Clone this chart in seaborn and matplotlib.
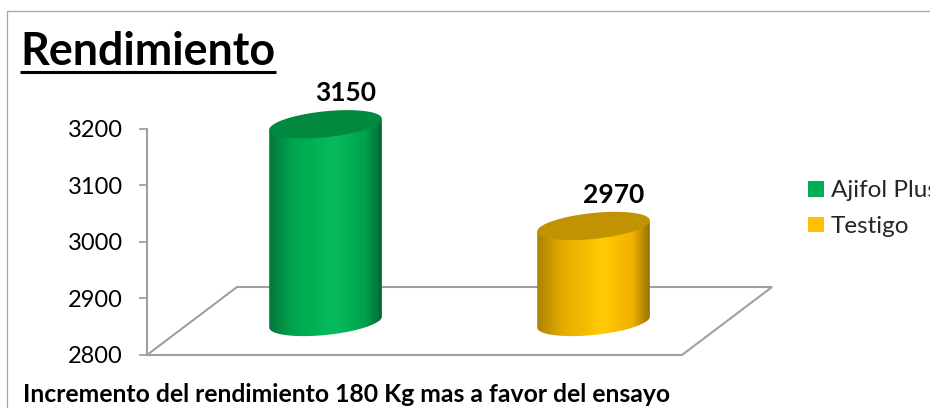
import numpy as np
import pandas as pd
import matplotlib
matplotlib.use('Agg')
import matplotlib.pyplot as plt
import seaborn as sns
from matplotlib.colors import LinearSegmentedColormap
from matplotlib.patches import Patch, PathPatch, Polygon
from matplotlib.path import Path

# values
tratamientos = ['Ajifol Plus', 'Testigo']
rendimiento = [3150, 2970]
y_ticks = [2800, 2900, 3000, 3100, 3200]
colores = ['#00B050', '#FFC000']
tapas = ['#00893F', '#C29300']
gradientes = [
    [(0, '#04783A'), (0.22, '#00A64F'), (0.58, '#05BC5C'), (0.85, '#00A24D'), (1, '#006A33')],
    [(0, '#AC8300'), (0.22, '#E2AB00'), (0.58, '#FFCC00'), (0.85, '#F0B000'), (1, '#977200')],
]
gris = '#A0A0A0'

W, H = 930, 408
sns.set_theme(style='white')
plt.rcParams['font.family'] = ['Lato', 'DejaVu Sans']

df = pd.DataFrame({'tratamiento': tratamientos, 'rendimiento': rendimiento})


def caja(x0, y0, x1, y1):
    # pixel box (top-left origin) to figure fractions
    return [x0 / W, 1 - y1 / H, (x1 - x0) / W, (y1 - y0) / H]


fig = plt.figure(figsize=(W / 100, H / 100), dpi=100)

# value axis
ax = fig.add_axes(caja(147, 129, 682, 355))
ax.set_ylim(2800, 3200)
ax.set_xticks([])
ax.set_yticks(y_ticks)
ax.patch.set_alpha(0)
sns.despine(ax=ax, bottom=True)
ax.spines['left'].set_color(gris)
ax.spines['left'].set_linewidth(1.5)
ax.tick_params(axis='y', left=True, length=6, width=1.3, color=gris, labelsize=17, pad=11.5, labelcolor='black')

# bars sit on the floor, shifted back from the value axis
ax_bars = fig.add_axes(caja(191.5, 96, 727.5, 322))
sns.barplot(data=df, x='tratamiento', y='rendimiento', hue='tratamiento', palette=colores,
            width=0.42, legend=False, ax=ax_bars)
ax_bars.set_ylim(2800, 3200)
ax_bars.set_xlim(-0.5, 1.5)
ax_bars.set_axis_off()

# overlay in pixels for the floor and the cylinder shading
canvas = fig.add_axes([0, 0, 1, 1], zorder=5)
canvas.set_xlim(0, W)
canvas.set_ylim(H, 0)
canvas.set_axis_off()

canvas.add_patch(Polygon([(147, 355), (682, 355), (772, 287), (237, 287)], closed=True,
                         fill=False, edgecolor=gris, lw=1.5, zorder=1))
canvas.plot([6.5, 6.5, W], [H, 10.5, 10.5], color='#A6A6A6', lw=0.9, zorder=1)

t = np.linspace(0, 2 * np.pi, 121)
for i, barra in enumerate(ax_bars.patches[:2]):
    x0 = barra.get_x()
    x1 = x0 + barra.get_width()
    p_top = ax_bars.transData.transform((x0, barra.get_height()))
    p_end = ax_bars.transData.transform((x1, ax_bars.get_ylim()[0]))
    px0, px1 = p_top[0], p_end[0]
    y_top, y_base = H - p_top[1], H - p_end[1]
    cx = (px0 + px1) / 2
    a = (px1 - px0) / 2
    ex = cx + a * np.cos(t)
    ey = -5.5 * np.cos(t) - 13 * np.sin(t)

    # body: top edge, then the lower half of the base ellipse
    low = np.linspace(0, np.pi, 61)
    lado_x = cx + a * np.cos(low)
    lado_y = y_base - 5.5 * np.cos(low) + 13 * np.sin(low)
    verts = np.vstack([[(px0, y_top + 5.5), (px1, y_top - 5.5)], np.column_stack([lado_x, lado_y])])
    cuerpo = Path(verts, closed=False)
    cmap = LinearSegmentedColormap.from_list('c', gradientes[i])
    img = canvas.imshow(np.linspace(0, 1, 256).reshape(1, -1), cmap=cmap, aspect='auto',
                        extent=(px0, px1, y_base + 20, y_top - 20), zorder=3)
    img.set_clip_path(PathPatch(cuerpo, transform=canvas.transData))
    barra.set_clip_path(cuerpo, transform=canvas.transData)
    canvas.fill(ex, y_top + ey, color=tapas[i], lw=0, zorder=4)

    # value label
    canvas.text(cx + 20, y_top - 31, str(rendimiento[i]), ha='center', va='center',
                fontsize=19, fontweight='bold', color='black', zorder=6)

canvas.set_xlim(0, W)
canvas.set_ylim(H, 0)

# title and note
canvas.text(20, 65, 'Rendimiento', fontsize=32.3, fontweight='bold', color='black', ha='left', va='baseline')
canvas.plot([20, 276], [72, 72], color='black', lw=2.2, solid_capstyle='butt')
canvas.text(23, 402, 'Incremento del rendimiento 180 Kg mas a favor del ensayo', fontsize=17.8, fontweight='bold',
            color='black', ha='left', va='baseline')

handles = [Patch(facecolor=c, edgecolor='none', label=n) for c, n in zip(colores, tratamientos)]
fig.legend(handles=handles, loc='upper left', bbox_to_anchor=(806 / W, 1 - 178 / H), frameon=False, fontsize=17.5,
           handlelength=0.62, handleheight=0.62, handletextpad=0.3, labelspacing=0.6, borderpad=0.1, borderaxespad=0)

fig.savefig('out.png', dpi=100)
